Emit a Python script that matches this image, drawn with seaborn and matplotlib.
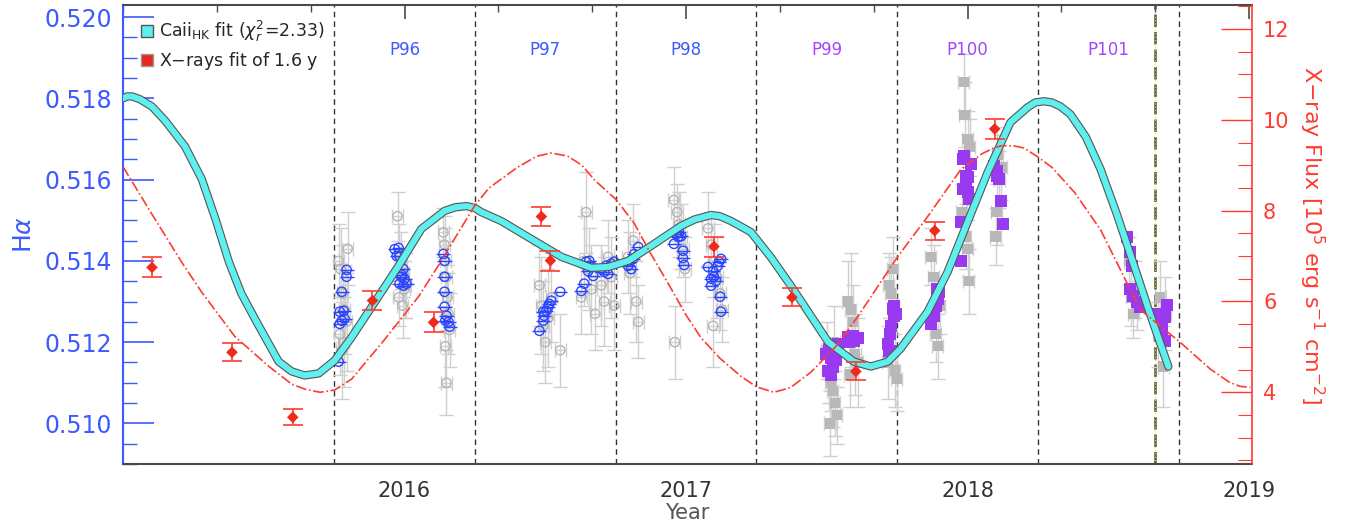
import numpy as np
import matplotlib
matplotlib.use("Agg")
import matplotlib.pyplot as plt
from matplotlib.lines import Line2D
from matplotlib.ticker import MultipleLocator
import seaborn as sns

# Ca II HK fit curve (left axis, H-alpha)
fit_year = [2015.000, 2015.015, 2015.032, 2015.060, 2015.103, 2015.150, 2015.220, 2015.280,
            2015.330, 2015.376, 2015.420, 2015.468, 2015.553, 2015.599, 2015.645, 2015.695,
            2015.752, 2015.810, 2015.872, 2015.979, 2016.060, 2016.142, 2016.180, 2016.220,
            2016.250, 2016.273, 2016.344, 2016.450, 2016.557, 2016.663, 2016.723, 2016.794,
            2016.876, 2016.982, 2017.030, 2017.089, 2017.120, 2017.160, 2017.230, 2017.300,
            2017.372, 2017.440, 2017.504, 2017.596, 2017.656, 2017.716, 2017.762, 2017.858,
            2017.929, 2018.000, 2018.071, 2018.152, 2018.213, 2018.240, 2018.270, 2018.300,
            2018.330, 2018.365, 2018.420, 2018.472, 2018.530, 2018.589, 2018.650, 2018.713]
fit_halpha = [0.51800, 0.51805, 0.51805, 0.51798, 0.51780, 0.51745, 0.51682, 0.51601,
              0.51500, 0.51398, 0.51320, 0.51258, 0.51152, 0.51128, 0.51118, 0.51123,
              0.51155, 0.51210, 0.51275, 0.51388, 0.51479, 0.51523, 0.51532, 0.51535,
              0.51530, 0.51520, 0.51498, 0.51454, 0.51410, 0.51383, 0.51385, 0.51400,
              0.51437, 0.51486, 0.51502, 0.51513, 0.51510, 0.51498, 0.51471, 0.51410,
              0.51339, 0.51268, 0.51201, 0.51152, 0.51140, 0.51152, 0.51184, 0.51275,
              0.51373, 0.51496, 0.51618, 0.51741, 0.51778, 0.51790, 0.51793, 0.51790,
              0.51780, 0.51761, 0.51705, 0.51626, 0.51515, 0.51393, 0.51265, 0.51140]

# X-ray 1.6 y fit (right axis)
xfit_year = [2015.000, 2015.100, 2015.209, 2015.280, 2015.397, 2015.518, 2015.599, 2015.650,
             2015.700, 2015.752, 2015.812, 2015.929, 2016.050, 2016.121, 2016.248, 2016.300,
             2016.400, 2016.470, 2016.521, 2016.580, 2016.630, 2016.674, 2016.752, 2016.816,
             2016.870, 2016.936, 2017.000, 2017.053, 2017.120, 2017.195, 2017.250, 2017.312,
             2017.370, 2017.443, 2017.532, 2017.610, 2017.752, 2017.858, 2017.975, 2018.050,
             2018.092, 2018.120, 2018.163, 2018.200, 2018.248, 2018.300, 2018.380, 2018.472,
             2018.613, 2018.755, 2018.862, 2018.930, 2018.968, 2019.004]
xfit_flux = [8.97, 7.95, 6.86, 6.20, 5.23, 4.57, 4.18, 4.06,
             4.00, 4.05, 4.29, 5.16, 6.11, 6.80, 8.10, 8.50,
             8.95, 9.20, 9.27, 9.20, 9.00, 8.68, 8.24, 7.72,
             7.10, 6.40, 5.70, 5.20, 4.75, 4.35, 4.12, 4.00,
             4.10, 4.44, 5.01, 5.67, 6.99, 7.87, 8.90, 9.25,
             9.38, 9.43, 9.43, 9.38, 9.19, 8.95, 8.40, 7.58,
             5.82, 5.10, 4.51, 4.22, 4.13, 4.11]

# X-ray measurements
xray_year = [2015.103, 2015.387, 2015.603, 2015.886, 2016.103, 2016.486,
             2016.518, 2017.099, 2017.376, 2017.603, 2017.883, 2018.096]
xray_flux = [6.75, 4.88, 3.45, 6.02, 5.54, 7.87, 6.90, 7.21, 6.09, 4.46, 7.56, 9.80]
xray_err = [0.22, 0.20, 0.18, 0.20, 0.22, 0.20, 0.22, 0.22, 0.20, 0.20, 0.20, 0.22]

# blue open circles (P96-P98)
blue_year = [2015.770, 2015.777, 2015.784, 2015.770, 2015.787, 2015.777, 2015.794, 2015.794, 2015.766,
             2015.965, 2015.979, 2015.982, 2015.972, 2015.996, 2015.989, 2016.000, 2015.989, 2015.996, 2016.007, 2015.982,
             2016.138, 2016.142, 2016.142, 2016.142, 2016.142, 2016.149, 2016.156, 2016.160, 2016.145,
             2016.479, 2016.493, 2016.496, 2016.504, 2016.511, 2016.514, 2016.521, 2016.493, 2016.553,
             2016.628, 2016.638, 2016.645, 2016.656, 2016.663, 2016.670, 2016.652, 2016.699, 2016.709, 2016.723,
             2016.734, 2016.745, 2016.716,
             2016.794, 2016.805, 2016.812, 2016.816, 2016.830, 2016.798,
             2016.957, 2016.972, 2016.975, 2016.982, 2016.989, 2016.989, 2016.993, 2016.965,
             2017.078, 2017.089, 2017.099, 2017.113, 2017.117, 2017.124, 2017.089, 2017.106, 2017.121, 2017.124, 2017.096]
blue_halpha = [0.51275, 0.51253, 0.51277, 0.51245, 0.51258, 0.51324, 0.51378, 0.51361, 0.51152,
               0.51429, 0.51432, 0.51412, 0.51412, 0.51380, 0.51366, 0.51356, 0.51361, 0.51339, 0.51344, 0.51344,
               0.51417, 0.51400, 0.51361, 0.51324, 0.51287, 0.51265, 0.51250, 0.51238, 0.51253,
               0.51228, 0.51253, 0.51265, 0.51277, 0.51287, 0.51294, 0.51302, 0.51275, 0.51324,
               0.51326, 0.51344, 0.51398, 0.51400, 0.51388, 0.51363, 0.51375, 0.51380, 0.51373, 0.51368,
               0.51393, 0.51398, 0.51388,
               0.51388, 0.51380, 0.51405, 0.51417, 0.51434, 0.51398,
               0.51442, 0.51459, 0.51471, 0.51461, 0.51425, 0.51407, 0.51390, 0.51466,
               0.51385, 0.51356, 0.51361, 0.51388, 0.51398, 0.51405, 0.51339, 0.51351, 0.51312, 0.51275, 0.51375]

# grey open circles (P96-P98)
grayc_year = [2015.766, 2015.773, 2015.780, 2015.787, 2015.794, 2015.770, 2015.777, 2015.784, 2015.798,
              2015.975, 2015.982, 2015.989, 2015.996, 2016.004, 2015.979, 2015.993, 2016.000,
              2016.138, 2016.142, 2016.145, 2016.149, 2016.152, 2016.156, 2016.160, 2016.145, 2016.149,
              2016.479, 2016.486, 2016.493, 2016.500, 2016.511, 2016.521, 2016.553,
              2016.628, 2016.638, 2016.645, 2016.656, 2016.663, 2016.677, 2016.699, 2016.709, 2016.723, 2016.734, 2016.745,
              2016.794, 2016.801, 2016.812, 2016.823, 2016.830,
              2016.957, 2016.968, 2016.975, 2016.982, 2016.989, 2016.996, 2016.960,
              2017.078, 2017.089, 2017.099, 2017.110, 2017.121, 2017.128, 2017.096]
grayc_halpha = [0.5140, 0.5138, 0.5132, 0.5128, 0.5125, 0.5122, 0.5118, 0.5120, 0.5143,
                0.5151, 0.5142, 0.5140, 0.5137, 0.5134, 0.5131, 0.5129, 0.5133,
                0.5147, 0.5144, 0.5140, 0.5136, 0.5131, 0.5127, 0.5123, 0.5119, 0.5110,
                0.5134, 0.5129, 0.5124, 0.5120, 0.5126, 0.5131, 0.5118,
                0.5131, 0.5140, 0.5152, 0.5138, 0.5133, 0.5127, 0.5134, 0.5130, 0.5141, 0.5136, 0.5129,
                0.5141, 0.5137, 0.5145, 0.5130, 0.5125,
                0.5155, 0.5152, 0.5149, 0.5146, 0.5143, 0.5138, 0.5120,
                0.5148, 0.5144, 0.5140, 0.5136, 0.5132, 0.5128, 0.5124]
grayc_err = [0.0009, 0.0010, 0.0012, 0.0011, 0.0012, 0.0010, 0.0012, 0.0011, 0.0009,
             0.0006, 0.0007, 0.0007, 0.0006, 0.0008, 0.0007, 0.0008, 0.0007,
             0.0006, 0.0007, 0.0008, 0.0009, 0.0008, 0.0010, 0.0009, 0.0010, 0.0008,
             0.0010, 0.0012, 0.0011, 0.0010, 0.0012, 0.0011, 0.0009,
             0.0009, 0.0011, 0.0010, 0.0010, 0.0011, 0.0009, 0.0010, 0.0011, 0.0009, 0.0010, 0.0011,
             0.0009, 0.0010, 0.0009, 0.0010, 0.0009,
             0.0008, 0.0007, 0.0008, 0.0008, 0.0007, 0.0008, 0.0009,
             0.0009, 0.0008, 0.0009, 0.0010, 0.0009, 0.0008, 0.0010]

# purple filled squares (P99-P101)
purple_year = [2017.496, 2017.507, 2017.525, 2017.539, 2017.514, 2017.532, 2017.521, 2017.504, 2017.514,
               2017.574, 2017.592, 2017.596, 2017.610, 2017.578,
               2017.734, 2017.738, 2017.727, 2017.723, 2017.716, 2017.720, 2017.734, 2017.745, 2017.738,
               2017.869, 2017.876, 2017.887, 2017.894, 2017.897, 2017.879, 2017.890,
               2017.975, 2017.975, 2017.982, 2017.993, 2018.000, 2018.004, 2017.982, 2017.986, 2017.993, 2018.011, 2018.000,
               2018.092, 2018.106, 2018.110, 2018.106, 2018.117, 2018.124,
               2018.567, 2018.578, 2018.585, 2018.578, 2018.589, 2018.603, 2018.613,
               2018.674, 2018.709, 2018.702, 2018.684, 2018.691, 2018.702]
purple_halpha = [0.51172, 0.51184, 0.51191, 0.51196, 0.51160, 0.51155, 0.51140, 0.51128, 0.51118,
                 0.51213, 0.51216, 0.51204, 0.51209, 0.51201,
                 0.51282, 0.51265, 0.51240, 0.51221, 0.51196, 0.51179, 0.51177, 0.51270, 0.51290,
                 0.51245, 0.51275, 0.51290, 0.51307, 0.51324, 0.51265, 0.51331,
                 0.51400, 0.51496, 0.51577, 0.51584, 0.51569, 0.51552, 0.51650, 0.51658, 0.51609, 0.51638, 0.51606,
                 0.51633, 0.51621, 0.51601, 0.51609, 0.51547, 0.51491,
                 0.51459, 0.51422, 0.51388, 0.51331, 0.51314, 0.51299, 0.51287,
                 0.51270, 0.51292, 0.51263, 0.51245, 0.51233, 0.51204]

# grey filled squares (P99-P101)
grays_year = [2017.500, 2017.507, 2017.514, 2017.521, 2017.528, 2017.535, 2017.511, 2017.525,
              2017.574, 2017.585, 2017.592, 2017.600, 2017.610, 2017.581,
              2017.720, 2017.727, 2017.734, 2017.741, 2017.748, 2017.716,
              2017.869, 2017.879, 2017.887, 2017.894, 2017.901,
              2017.986, 2017.989, 2018.000, 2018.007, 2017.993, 2018.000, 2018.004, 2017.979,
              2018.106, 2018.103, 2018.099, 2018.113, 2018.120,
              2018.574, 2018.581, 2018.589, 2018.596, 2018.603,
              2018.684, 2018.695, 2018.702, 2018.677]
grays_halpha = [0.5118, 0.5113, 0.5110, 0.5108, 0.5105, 0.5102, 0.5100, 0.5120,
                0.5130, 0.5128, 0.5125, 0.5117, 0.5115, 0.5112,
                0.5134, 0.5132, 0.5138, 0.5113, 0.5111, 0.5115,
                0.5141, 0.5136, 0.5122, 0.5119, 0.5129,
                0.5184, 0.5176, 0.5170, 0.5168, 0.5146, 0.5143, 0.5135, 0.5152,
                0.5166, 0.5152, 0.5146, 0.5160, 0.5163,
                0.5140, 0.5131, 0.5127, 0.5133, 0.5129,
                0.5131, 0.5114, 0.5127, 0.5122]
grays_err = [0.0007, 0.0008, 0.0007, 0.0009, 0.0008, 0.0007, 0.0008, 0.0009,
             0.0010, 0.0014, 0.0009, 0.0010, 0.0011, 0.0008,
             0.0008, 0.0009, 0.0008, 0.0009, 0.0008, 0.0009,
             0.0007, 0.0008, 0.0007, 0.0008, 0.0007,
             0.0007, 0.0008, 0.0007, 0.0007, 0.0008, 0.0007, 0.0008, 0.0007,
             0.0007, 0.0008, 0.0007, 0.0007, 0.0008,
             0.0006, 0.0007, 0.0006, 0.0007, 0.0006,
             0.0009, 0.0010, 0.0009, 0.0008]

period_edges = [2015.75, 2016.25, 2016.75, 2017.25, 2017.75, 2018.25, 2018.75]
period_labels = ["P96", "P97", "P98", "P99", "P100", "P101"]
period_centers = [2016.0, 2016.5, 2017.0, 2017.5, 2018.0, 2018.5]
green_line = 2018.667
year_ticks = [2016, 2017, 2018, 2019]

BLUE = "#3d5afe"
RED = "#ff3b30"
PURPLE = "#a347ff"
CYAN = "#5ef0ee"
AXCOL = "#4a4a4a"

sns.set_style("white")
plt.rcParams["font.family"] = ["DejaVu Sans"]

fig = plt.figure(figsize=(13.51, 5.30), dpi=100)
ax = fig.add_axes([123 / 1351, 66 / 530, 1129 / 1351, 459 / 530])
ax2 = ax.twinx()

# grey measurements
ax.errorbar(grayc_year, grayc_halpha, yerr=grayc_err, xerr=0.02, fmt="none",
            ecolor="#cfcfcf", elinewidth=1.0, capsize=5, capthick=1.0, zorder=1)
sns.scatterplot(x=grayc_year, y=grayc_halpha, ax=ax, marker="o", s=45,
                facecolor="none", edgecolor="#b5b5b5", linewidth=1.0, zorder=2)
ax.errorbar(grays_year, grays_halpha, yerr=grays_err, xerr=0.02, fmt="none",
            ecolor="#cfcfcf", elinewidth=1.0, capsize=5, capthick=1.0, zorder=1)
sns.scatterplot(x=grays_year, y=grays_halpha, ax=ax, marker="s", s=55,
                color="#b8b8b8", edgecolor="none", zorder=2)

# blue and purple binned points
ax.errorbar(blue_year, blue_halpha, xerr=0.025, fmt="none", ecolor="#2a45ff",
            elinewidth=1.0, zorder=3)
sns.scatterplot(x=blue_year, y=blue_halpha, ax=ax, marker="o", s=45,
                facecolor="none", edgecolor="#2a45ff", linewidth=1.0, zorder=4)
ax.errorbar(purple_year, purple_halpha, xerr=0.02, yerr=0.0001, fmt="none", ecolor=PURPLE,
            elinewidth=1.2, zorder=3)
sns.scatterplot(x=purple_year, y=purple_halpha, ax=ax, marker="s", s=75,
                color="#9a3af0", edgecolor="none", zorder=4)

# Ca II HK fit
sns.lineplot(x=fit_year, y=fit_halpha, ax=ax, sort=False, estimator=None,
             color="#555555", linewidth=6.0, zorder=5)
sns.lineplot(x=fit_year, y=fit_halpha, ax=ax, sort=False, estimator=None,
             color=CYAN, linewidth=4.4, zorder=6)

# period boundaries
for xe in period_edges:
    ax.axvline(xe, color="#333333", linestyle=(0, (4, 3)), linewidth=1.0, zorder=0)
ax.axvline(green_line, color="#4f5a2a", linestyle=(0, (5, 2)), linewidth=1.8, zorder=0)
ax.axvline(green_line, color="#d8d870", linestyle=(0, (1, 2)), linewidth=0.8, zorder=0)

for lab, xc, col in zip(period_labels, period_centers,
                        [BLUE, BLUE, BLUE, PURPLE, PURPLE, PURPLE]):
    ax.text(xc, 0.902, lab, transform=ax.get_xaxis_transform(), color=col,
            fontsize=12, ha="center", va="center")

# X-ray on right axis
sns.lineplot(x=xfit_year, y=xfit_flux, ax=ax2, sort=False, estimator=None,
             color=RED, linewidth=1.2, linestyle="-.", zorder=2)
ax2.errorbar(xray_year, xray_flux, yerr=xray_err, fmt="none", ecolor=RED,
             elinewidth=1.2, capsize=7, capthick=1.2, zorder=3)
sns.scatterplot(x=xray_year, y=xray_flux, ax=ax2, marker="D", s=35,
                color="#ee2a1a", edgecolor="none", zorder=4)

ax.set_xlim(2015.0, 2019.01)
ax.set_ylim(0.509, 0.5203)
ax2.set_ylim(2.42, 12.53)

# axes styling
ax.set_xticks(year_ticks)
ax.xaxis.set_minor_locator(MultipleLocator(1 / 3))
ax.yaxis.set_major_locator(MultipleLocator(0.002))
ax.yaxis.set_minor_locator(MultipleLocator(0.0005))
ax.yaxis.set_major_formatter(matplotlib.ticker.FormatStrFormatter("%.3f"))
ax2.yaxis.set_minor_locator(MultipleLocator(0.5))
ax2.set_yticks([4, 6, 8, 10, 12])

ax.tick_params(axis="x", which="major", direction="in", length=10, width=1.2,
               color=AXCOL, top=True, labelsize=15, labelcolor="#333333", pad=12)
ax.tick_params(axis="x", which="minor", direction="in", length=5, width=1.0,
               color=AXCOL, top=True)
ax.tick_params(axis="y", which="major", direction="in", length=22, width=1.2,
               color=BLUE, labelsize=17, labelcolor=BLUE, pad=8, right=False)
ax.tick_params(axis="y", which="minor", direction="in", length=10, width=1.0,
               color=BLUE, right=False)
ax2.tick_params(axis="y", which="major", direction="in", length=22, width=1.0,
                color=RED, labelsize=15, labelcolor=RED, pad=8)
ax2.tick_params(axis="y", which="minor", direction="in", length=10, width=0.8, color=RED)

for sp in ["top", "bottom"]:
    ax.spines[sp].set_color(AXCOL)
    ax.spines[sp].set_linewidth(1.5)
    ax2.spines[sp].set_visible(False)
ax.spines["left"].set_color(BLUE)
ax.spines["left"].set_linewidth(1.5)
ax.spines["right"].set_visible(False)
ax2.spines["left"].set_visible(False)
ax2.spines["right"].set_color(RED)
ax2.spines["right"].set_linewidth(1.2)

ax.set_xlabel("Year", fontsize=15, color="#555555", labelpad=2)
ax.set_ylabel(r"H$\alpha$", fontsize=18, color=BLUE, labelpad=6)
ax2.set_ylabel(r"X$-$ray Flux [10$^5$ erg s$^{-1}$ cm$^{-2}$]", fontsize=16,
               color=RED, rotation=270, labelpad=26)

handles = [
    Line2D([], [], marker="s", linestyle="none", markersize=9,
           markerfacecolor=CYAN, markeredgecolor="#555555",
           label=r"Caii$_{\rm HK}$ fit ($\chi_r^2$=2.33)"),
    Line2D([], [], marker="s", linestyle="none", markersize=9,
           markerfacecolor="#e8281a", markeredgecolor="#999999",
           label="X$-$rays fit of 1.6 y"),
]
ax.legend(handles=handles, loc="upper left", frameon=False, fontsize=12.5,
          handletextpad=0.1, labelspacing=0.35, borderaxespad=0.4, handlelength=1.2)

fig.savefig("out.png", dpi=100)
